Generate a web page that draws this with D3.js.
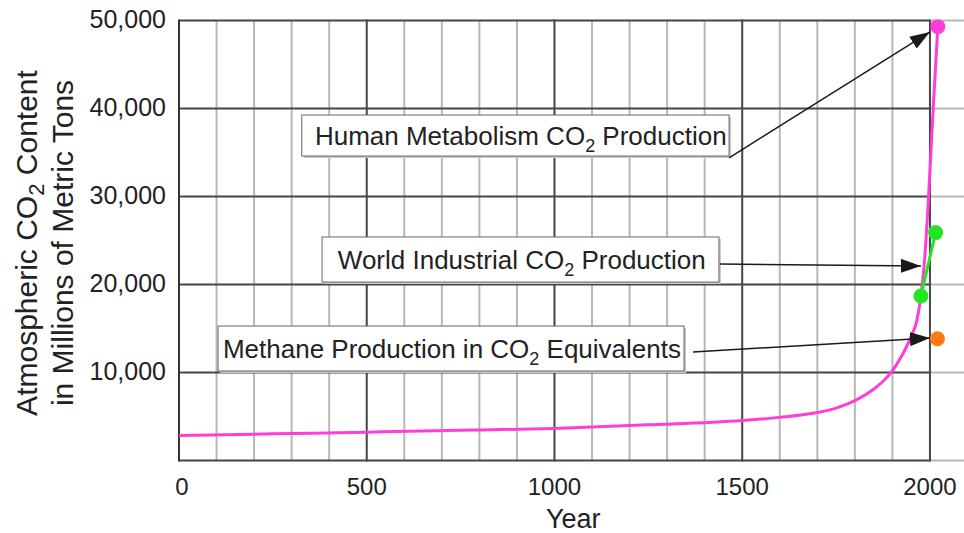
<!DOCTYPE html>
<html>
<head>
<meta charset="utf-8">
<script src="https://cdn.jsdelivr.net/npm/d3@7"></script>
<style>
  body { margin: 0; background: #fff; }
  svg { display: block; font-family: "Liberation Sans", Arial, Helvetica, sans-serif; }
</style>
</head>
<body>
<svg id="chart" width="964" height="533"></svg>
<script>
// Atmospheric CO2 curve (year, millions of metric tons)
const curveYears  = [0, 250, 500, 750, 1000, 1250, 1500, 1600, 1700, 1750, 1800, 1850, 1875, 1900, 1925, 1950, 1965, 1976, 1985, 1995, 2008, 2021];
const curveValues = [2840, 3030, 3220, 3430, 3650, 4050, 4550, 4900, 5450, 5950, 6800, 8100, 9000, 10200, 11900, 14100, 15900, 18700, 22400, 29000, 39500, 49300];

// World industrial CO2 production (two points joined by a line)
const industrialYears  = [1976, 2015];
const industrialValues = [18700, 25900];

// Human metabolism and methane end points
const humanYear = 2021, humanValue = 49300;
const methaneYear = 2020, methaneValue = 13830;

// Axis ticks
const xTicks = [0, 500, 1000, 1500, 2000];
const yTicks = [10000, 20000, 30000, 40000, 50000];

// Annotation labels: [before subscript, subscript, after subscript]
const labelTexts = [
    ["Human Metabolism CO", "2", " Production"],
    ["World Industrial CO", "2", " Production"],
    ["Methane Production in CO", "2", " Equivalents"]
];

const svg = d3.select("#chart");
const width = +svg.attr("width");
const height = +svg.attr("height");

const x = d3.scaleLinear().domain([0, 2100]).range([179, 967.5]);
const y = d3.scaleLinear().domain([0, 50000]).range([460.5, 20.5]);

const darkGrid = "#454545";
const lightGrid = "#b8b8b8";

// Grid: light lines every 100 years
const grid = svg.append("g");
grid.selectAll(".minor")
    .data(d3.range(100, 2001, 100).filter(d => d % 500 !== 0))
    .enter().append("line")
    .attr("x1", d => x(d)).attr("x2", d => x(d))
    .attr("y1", y(0)).attr("y2", y(50000))
    .attr("stroke", lightGrid).attr("stroke-width", 2);

// Horizontal lines, lighter past the year 2000
const hLines = [0].concat(yTicks);
grid.selectAll(".hdark")
    .data(hLines)
    .enter().append("line")
    .attr("x1", x(0)).attr("x2", x(2000))
    .attr("y1", d => y(d)).attr("y2", d => y(d))
    .attr("stroke", darkGrid).attr("stroke-width", 2);
grid.selectAll(".hlight")
    .data(hLines)
    .enter().append("line")
    .attr("x1", x(2000)).attr("x2", width)
    .attr("y1", d => y(d)).attr("y2", d => y(d))
    .attr("stroke", lightGrid).attr("stroke-width", 2);

// Dark lines every 500 years
grid.selectAll(".major")
    .data(xTicks)
    .enter().append("line")
    .attr("x1", d => x(d)).attr("x2", d => x(d))
    .attr("y1", y(0) + 1).attr("y2", y(50000) - 1)
    .attr("stroke", d => d === 0 ? "#333" : darkGrid).attr("stroke-width", 2);

// Tick labels
svg.append("g").selectAll("text")
    .data(xTicks)
    .enter().append("text")
    .attr("x", d => x(d) + (d === 0 ? 3 : 0))
    .attr("y", 495)
    .attr("text-anchor", "middle")
    .attr("font-size", 24)
    .attr("fill", "#222")
    .text(d => d);

svg.append("g").selectAll("text")
    .data(yTicks)
    .enter().append("text")
    .attr("x", 166)
    .attr("y", d => y(d))
    .attr("dy", "0.3em")
    .attr("text-anchor", "end")
    .attr("font-size", 25)
    .attr("fill", "#222")
    .text(d => d3.format(",")(d));

// Axis titles
svg.append("text")
    .attr("x", (x.range()[0] + x.range()[1]) / 2)
    .attr("y", 528)
    .attr("text-anchor", "middle")
    .attr("font-size", 27)
    .attr("fill", "#222")
    .text("Year");

const yTitle = svg.append("g").attr("transform", "translate(0,243) rotate(-90)");
const t1 = yTitle.append("text").attr("y", 37).attr("text-anchor", "middle")
    .attr("font-size", 30).attr("fill", "#222");
t1.append("tspan").text("Atmospheric CO");
t1.append("tspan").attr("font-size", 22).attr("dy", 7).text("2");
t1.append("tspan").attr("dy", -7).text(" Content");
yTitle.append("text").attr("y", 73).attr("text-anchor", "middle")
    .attr("font-size", 30).attr("fill", "#222")
    .text("in Millions of Metric Tons");

// CO2 curve
const curve = curveYears.map((d, i) => [d, curveValues[i]]);
svg.append("path")
    .datum(curve)
    .attr("fill", "none")
    .attr("stroke", "#ff3ed8")
    .attr("stroke-width", 3)
    .attr("d", d3.line().x(d => x(d[0])).y(d => y(d[1])).curve(d3.curveMonotoneX));

// Industrial line
const industrial = industrialYears.map((d, i) => [d, industrialValues[i]]);
svg.append("path")
    .datum(industrial)
    .attr("fill", "none")
    .attr("stroke", "#22e622")
    .attr("stroke-width", 3)
    .attr("d", d3.line().x(d => x(d[0])).y(d => y(d[1])));

// Points
const points = [
    { year: humanYear, value: humanValue, color: "#ff3ed8" },
    { year: industrialYears[0], value: industrialValues[0], color: "#22e622" },
    { year: industrialYears[1], value: industrialValues[1], color: "#22e622" },
    { year: methaneYear, value: methaneValue, color: "#ff7a12" }
];
svg.append("g").selectAll("circle")
    .data(points)
    .enter().append("circle")
    .attr("cx", d => x(d.year))
    .attr("cy", d => y(d.value))
    .attr("r", 7.5)
    .attr("fill", d => d.color);

// Arrow marker
svg.append("defs").append("marker")
    .attr("id", "arrow")
    .attr("markerUnits", "userSpaceOnUse")
    .attr("markerWidth", 22).attr("markerHeight", 14)
    .attr("refX", 20).attr("refY", 7)
    .attr("orient", "auto")
    .append("path")
    .attr("d", "M0,0 L20,7 L0,14 Z")
    .attr("fill", "#1a1a1a");

// Label boxes in chart units: box (years / values), text start, arrow from -> to
const annotations = [
    { box: [327, 1465, 39260, 34600], textYear: 362, from: [1465, 34400], to: [2000, 48700] },
    { box: [381, 1438, 25400, 20280], textYear: 423, from: [1441, 22330], to: [1976, 22100] },
    { box: [104, 1345, 15280, 10170], textYear: 117, from: [1369, 12330], to: [2000, 13920] }
];

annotations.forEach((a, i) => {
    const g = svg.append("g");
    const bx = x(a.box[0]), bw = x(a.box[1]) - x(a.box[0]);
    const by = y(a.box[2]), bh = y(a.box[3]) - y(a.box[2]);
    g.append("rect")
        .attr("x", bx + 2).attr("y", by + 2)
        .attr("width", bw).attr("height", bh)
        .attr("fill", "#c8c8c8");
    g.append("rect")
        .attr("x", bx).attr("y", by)
        .attr("width", bw).attr("height", bh)
        .attr("fill", "#fff")
        .attr("stroke", "#666").attr("stroke-width", 1);
    const txt = g.append("text")
        .attr("x", x(a.textYear))
        .attr("y", by + bh / 2 + 9)
        .attr("font-size", 26)
        .attr("fill", "#222");
    txt.append("tspan").text(labelTexts[i][0]);
    txt.append("tspan").attr("font-size", 18).attr("dy", 7).text(labelTexts[i][1]);
    txt.append("tspan").attr("dy", -7).text(labelTexts[i][2]);

    svg.append("line")
        .attr("x1", x(a.from[0])).attr("y1", y(a.from[1]))
        .attr("x2", x(a.to[0])).attr("y2", y(a.to[1]))
        .attr("stroke", "#1a1a1a")
        .attr("stroke-width", 1.5)
        .attr("marker-end", "url(#arrow)");
});
</script>
</body>
</html>
